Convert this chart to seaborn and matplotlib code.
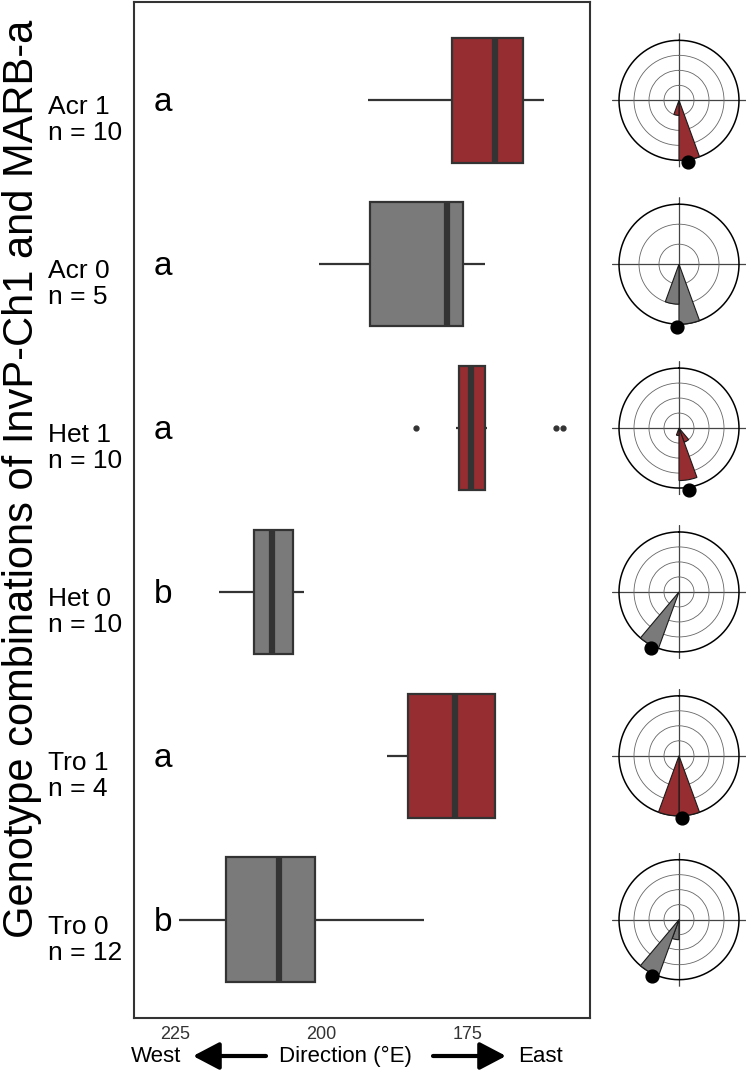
import numpy as np
import pandas as pd
import matplotlib
matplotlib.use("Agg")
import matplotlib.pyplot as plt
import seaborn as sns

# ---------------- data ----------------
groups = ["Acr 1", "Acr 0", "Het 1", "Het 0", "Tro 1", "Tro 0"]
n_labels = ["n = 10", "n = 5", "n = 10", "n = 10", "n = 4", "n = 12"]
letters = ["a", "a", "a", "b", "a", "b"]
allele = ["1", "0", "1", "0", "1", "0"]

acr1 = [161.8, 163.5, 165.0, 166.6, 169.0, 171.4, 176.0, 178.1, 183.0, 192.0]
acr0 = [171.9, 175.7, 178.4, 191.6, 200.3]
het1 = [158.7, 159.9, 171.7, 172.5, 173.8, 175.0, 176.1, 176.5, 176.9, 183.7]
het0 = [202.9, 203.8, 204.5, 205.7, 207.6, 209.2, 211.2, 211.6, 214.0, 217.5]
tro1 = [170.0, 170.4, 183.8, 188.8]
tro0 = [182.4, 195.0, 200.5, 201.3, 204.0, 206.0, 208.4, 212.0, 216.0, 217.2, 220.0, 224.3]

x_ticks = [225, 200, 175]

# rose diagrams (20 degree bins): bin start (deg), counts
rose_bins = [[160, 180], [160, 180], [140, 160, 180], [200], [160, 180], [180, 200]]
rose_counts = [[8, 2], [3, 2], [2, 7, 1], [10], [2, 2], [3, 9]]
rose_max = [8, 3, 8, 10, 2, 9]
rose_rings = [4, 3, 4, 4, 4, 4]
mean_dir = [172, 182, 171, 207, 177, 206]

# ---------------- style ----------------
sns.set_style("white")
plt.rcParams["font.family"] = ["Liberation Sans", "DejaVu Sans"]

RED = "#962D30"
GREY = "#7A7A7A"
DARK = "#333333"
palette = {g: (RED if a == "1" else GREY) for g, a in zip(groups, allele)}

values = [acr1, acr0, het1, het0, tro1, tro0]
df = pd.DataFrame({
    "group": np.repeat(groups, [len(v) for v in values]),
    "direction": np.concatenate(values),
})

W, H = 747, 1071
fig = plt.figure(figsize=(W / 100, H / 100), dpi=100)
ax = fig.add_axes([134 / W, 1 - 1018 / H, 456 / W, 1016 / H])

sns.boxplot(data=df, x="direction", y="group", hue="group", order=groups,
            hue_order=groups, palette=palette, legend=False, orient="h",
            width=0.76, linewidth=1.6, linecolor=DARK, saturation=1,
            showcaps=False, whis=1.5, fliersize=3.5,
            flierprops={"marker": "o", "markerfacecolor": DARK,
                        "markeredgecolor": DARK},
            medianprops={"linewidth": 4.5, "color": DARK}, ax=ax)

ax.set_xlim(232, 154)
ax.set_ylim(5.6, -0.6)
ax.set_xticks(x_ticks)
ax.set_xticklabels([str(t) for t in x_ticks], fontsize=13, color=DARK)
ax.set_yticks(range(len(groups)))
ax.set_yticklabels([])
ax.tick_params(axis="both", length=3, width=1, color=DARK, direction="out")
ax.tick_params(axis="x", pad=3)
for s in ax.spines.values():
    s.set_visible(True)
    s.set_color(DARK)
    s.set_linewidth(1.5)

# group labels (left) and significance letters
lab_x = (48 - 134) / 456
for i, (g, n) in enumerate(zip(groups, n_labels)):
    ax.text(lab_x, i - 0.03, f"{g}\n{n}", transform=ax.get_yaxis_transform(),
            ha="left", va="top", fontsize=19, linespacing=1.1, color="black")
    ax.text(227.0, i + 0.015, letters[i], ha="center", va="center", fontsize=24,
            color="black")

ax.set_ylabel("Genotype combinations of InvP-Ch1 and MARB-a", fontsize=30,
              va="center", color="black")
ax.yaxis.set_label_coords((22 - 134) / 456, (1018 - 479) / 1016)

ax.set_xlabel("Direction (°E)", fontsize=16, va="center", color="black")
ax.xaxis.set_label_coords((345 - 134) / 456, (1018 - 1056) / 1016)

fy = 1 - 1056 / H
fig.text(156 / W, fy, "West", ha="center", va="center", fontsize=16,
         color="black")
fig.text(540 / W, fy, "East", ha="center", va="center", fontsize=16,
         color="black")
astyle = "-|>,head_length=0.8,head_width=0.42"
ax.annotate("", xy=(193 / W, fy), xytext=(266 / W, fy),
            xycoords="figure fraction", textcoords="figure fraction",
            arrowprops=dict(arrowstyle=astyle, lw=3, color="black",
                            mutation_scale=20, shrinkA=0, shrinkB=0))
ax.annotate("", xy=(506 / W, fy), xytext=(433 / W, fy),
            xycoords="figure fraction", textcoords="figure fraction",
            arrowprops=dict(arrowstyle=astyle, lw=3, color="black",
                            mutation_scale=20, shrinkA=0, shrinkB=0))

# ---------------- rose diagrams ----------------
half = 67
for i, g in enumerate(groups):
    cy = ax.transData.transform((200, i))[1]
    pax = fig.add_axes([(679 - half) / W, (cy - half) / H, 2 * half / W,
                        2 * half / H], projection="polar")
    pax.set_theta_zero_location("N")
    pax.set_theta_direction(-1)
    rmax = rose_max[i]
    pax.set_ylim(0, rmax * half / 60)
    rings = np.linspace(0, rmax, rose_rings[i] + 1)[1:-1]
    pax.set_yticks(rings)
    pax.set_yticklabels([])
    pax.set_xticks(np.deg2rad([0, 90, 180, 270]))
    pax.set_xticklabels([])
    pax.grid(True)
    pax.yaxis.grid(True, color="#666666", lw=0.6)
    pax.xaxis.grid(True, color="#444444", lw=0.9)
    pax.spines["polar"].set_visible(False)
    th = np.linspace(0, 2 * np.pi, 361)
    pax.plot(th, np.full_like(th, rmax), color="black", lw=1.1, zorder=2)
    col = palette[g]
    pax.bar(np.deg2rad(rose_bins[i]), rose_counts[i], width=np.deg2rad(20),
            align="edge", color=col, edgecolor="#1a1a1a", linewidth=0.8,
            zorder=3)
    pax.scatter([np.deg2rad(mean_dir[i])], [rmax * 1.045], s=85,
                color="black", zorder=4, clip_on=False)

fig.savefig("out.png", dpi=100)
